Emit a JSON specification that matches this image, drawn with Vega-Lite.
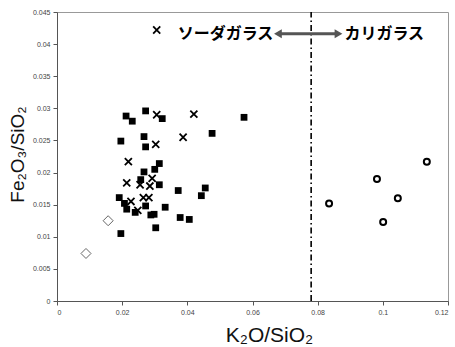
{
  "$schema": "https://vega.github.io/schema/vega-lite/v6.json",
  "width": 391,
  "height": 289,
  "autosize": {"type": "none"},
  "padding": {"left": 57, "top": 12, "right": 7, "bottom": 46},
  "background": "white",
  "config": {
    "view": {"stroke": "#999", "strokeWidth": 1},
    "axis": {"grid": false, "domainColor": "#555", "tickColor": "#555", "labelColor": "#444", "labelFontSize": 7, "labelFont": "Liberation Sans", "tickSize": 4, "labelOverlap": false, "labelPadding": 3, "titleFont": "Liberation Sans", "titleFontWeight": "normal", "titleColor": "#111"}
  },
  "datasets": {
    "pts": [
      {"g": "sq", "k": 0.0212, "fe": 0.0288},
      {"g": "sq", "k": 0.0231, "fe": 0.0280},
      {"g": "sq", "k": 0.0272, "fe": 0.0296},
      {"g": "sq", "k": 0.0323, "fe": 0.0284},
      {"g": "sq", "k": 0.0476, "fe": 0.0261},
      {"g": "sq", "k": 0.0196, "fe": 0.0249},
      {"g": "sq", "k": 0.0267, "fe": 0.0256},
      {"g": "sq", "k": 0.0272, "fe": 0.0240},
      {"g": "sq", "k": 0.0314, "fe": 0.0214},
      {"g": "sq", "k": 0.0300, "fe": 0.0205},
      {"g": "sq", "k": 0.0267, "fe": 0.0201},
      {"g": "sq", "k": 0.0257, "fe": 0.0189},
      {"g": "sq", "k": 0.0314, "fe": 0.0181},
      {"g": "sq", "k": 0.0372, "fe": 0.0172},
      {"g": "sq", "k": 0.0455, "fe": 0.0176},
      {"g": "sq", "k": 0.0443, "fe": 0.0164},
      {"g": "sq", "k": 0.0191, "fe": 0.0161},
      {"g": "sq", "k": 0.0207, "fe": 0.0152},
      {"g": "sq", "k": 0.0214, "fe": 0.0143},
      {"g": "sq", "k": 0.0240, "fe": 0.0138},
      {"g": "sq", "k": 0.0272, "fe": 0.0148},
      {"g": "sq", "k": 0.0332, "fe": 0.0146},
      {"g": "sq", "k": 0.0288, "fe": 0.0134},
      {"g": "sq", "k": 0.0298, "fe": 0.0135},
      {"g": "sq", "k": 0.0378, "fe": 0.0130},
      {"g": "sq", "k": 0.0406, "fe": 0.0127},
      {"g": "sq", "k": 0.0303, "fe": 0.0114},
      {"g": "sq", "k": 0.0196, "fe": 0.0105},
      {"g": "sq", "k": 0.0574, "fe": 0.0286},
      {"g": "x", "k": 0.0306, "fe": 0.0422},
      {"g": "x", "k": 0.0306, "fe": 0.0290},
      {"g": "x", "k": 0.0420, "fe": 0.0291},
      {"g": "x", "k": 0.0387, "fe": 0.0255},
      {"g": "x", "k": 0.0303, "fe": 0.0244},
      {"g": "x", "k": 0.0219, "fe": 0.0217},
      {"g": "x", "k": 0.0292, "fe": 0.0191},
      {"g": "x", "k": 0.0214, "fe": 0.0184},
      {"g": "x", "k": 0.0255, "fe": 0.0181},
      {"g": "x", "k": 0.0285, "fe": 0.0179},
      {"g": "x", "k": 0.0265, "fe": 0.0161},
      {"g": "x", "k": 0.0282, "fe": 0.0161},
      {"g": "x", "k": 0.0227, "fe": 0.0155},
      {"g": "x", "k": 0.0248, "fe": 0.0141},
      {"g": "d", "k": 0.0157, "fe": 0.0125},
      {"g": "d", "k": 0.0089, "fe": 0.0074},
      {"g": "c", "k": 0.1135, "fe": 0.0217},
      {"g": "c", "k": 0.0982, "fe": 0.0190},
      {"g": "c", "k": 0.1046, "fe": 0.0160},
      {"g": "c", "k": 0.0835, "fe": 0.0152},
      {"g": "c", "k": 0.1001, "fe": 0.0123}
    ],
    "labelL": [{"k": 0.0664, "fe": 0.0416, "t": "ソーダガラス"}],
    "labelR": [{"k": 0.0882, "fe": 0.0416, "t": "カリガラス"}],
    "arrow": [{"k": 0.0678, "k2": 0.0864, "fe": 0.0416}],
    "heads": [
      {"k": 0.0678, "fe": 0.0416, "s": "triangle-left"},
      {"k": 0.0864, "fe": 0.0416, "s": "triangle-right"}
    ],
    "vline": [{"k": 0.078, "fe": 0, "fe2": 0.045}]
  },
  "encoding": {
    "x": {"field": "k", "type": "quantitative", "scale": {"domain": [0, 0.12], "nice": false}, "axis": {"values": [0, 0.02, 0.04, 0.06, 0.08, 0.1, 0.12], "format": ".2~f", "title": "K₂O/SiO₂", "titleFontSize": 21, "titleX": 212, "titleY": 40, "titleBaseline": "alphabetic", "titleAnchor": null, "titleAlign": "center"}},
    "y": {"field": "fe", "type": "quantitative", "scale": {"domain": [0, 0.045], "nice": false}, "axis": {"values": [0, 0.005, 0.01, 0.015, 0.02, 0.025, 0.03, 0.035, 0.04, 0.045], "format": ".3~f", "title": "Fe₂O₃/SiO₂", "titleFontSize": 19, "titleX": -34, "titleY": 142, "titleBaseline": "alphabetic", "titleAnchor": null, "titleAlign": "center", "titleAngle": -90}}
  },
  "layer": [
    {
      "data": {"name": "vline"},
      "mark": {"type": "rule", "color": "#000", "strokeWidth": 1.6, "strokeDash": [6, 3, 1.5, 3]},
      "encoding": {"y2": {"field": "fe2"}}
    },
    {
      "data": {"name": "pts"},
      "transform": [{"filter": "datum.g === 'sq'"}],
      "mark": {"type": "point", "shape": "square", "filled": true, "color": "#000", "opacity": 1, "size": 46}
    },
    {
      "data": {"name": "pts"},
      "transform": [{"filter": "datum.g === 'x'"}],
      "mark": {"type": "point", "shape": "M-1,-1L1,1M-1,1L1,-1", "filled": false, "color": "#000", "opacity": 1, "size": 50, "strokeWidth": 1.8}
    },
    {
      "data": {"name": "pts"},
      "transform": [{"filter": "datum.g === 'd'"}],
      "mark": {"type": "point", "shape": "diamond", "filled": false, "color": "#666", "opacity": 1, "size": 100, "strokeWidth": 1}
    },
    {
      "data": {"name": "pts"},
      "transform": [{"filter": "datum.g === 'c'"}],
      "mark": {"type": "point", "shape": "circle", "filled": false, "color": "#000", "opacity": 1, "size": 36, "strokeWidth": 2}
    },
    {
      "data": {"name": "arrow"},
      "mark": {"type": "rule", "color": "#555", "strokeWidth": 3},
      "encoding": {"x2": {"field": "k2"}}
    },
    {
      "data": {"name": "heads"},
      "mark": {"type": "point", "filled": true, "color": "#555", "opacity": 1, "size": 80},
      "encoding": {
        "shape": {"field": "s", "type": "nominal", "scale": null, "legend": null}
      }
    },
    {
      "data": {"name": "labelL"},
      "mark": {"type": "text", "font": "Noto Sans CJK JP", "fontWeight": "bold", "fontSize": 16, "color": "#000", "baseline": "middle", "align": "right"},
      "encoding": {"text": {"field": "t"}}
    },
    {
      "data": {"name": "labelR"},
      "mark": {"type": "text", "font": "Noto Sans CJK JP", "fontWeight": "bold", "fontSize": 16, "color": "#000", "baseline": "middle", "align": "left"},
      "encoding": {"text": {"field": "t"}}
    }
  ]
}
